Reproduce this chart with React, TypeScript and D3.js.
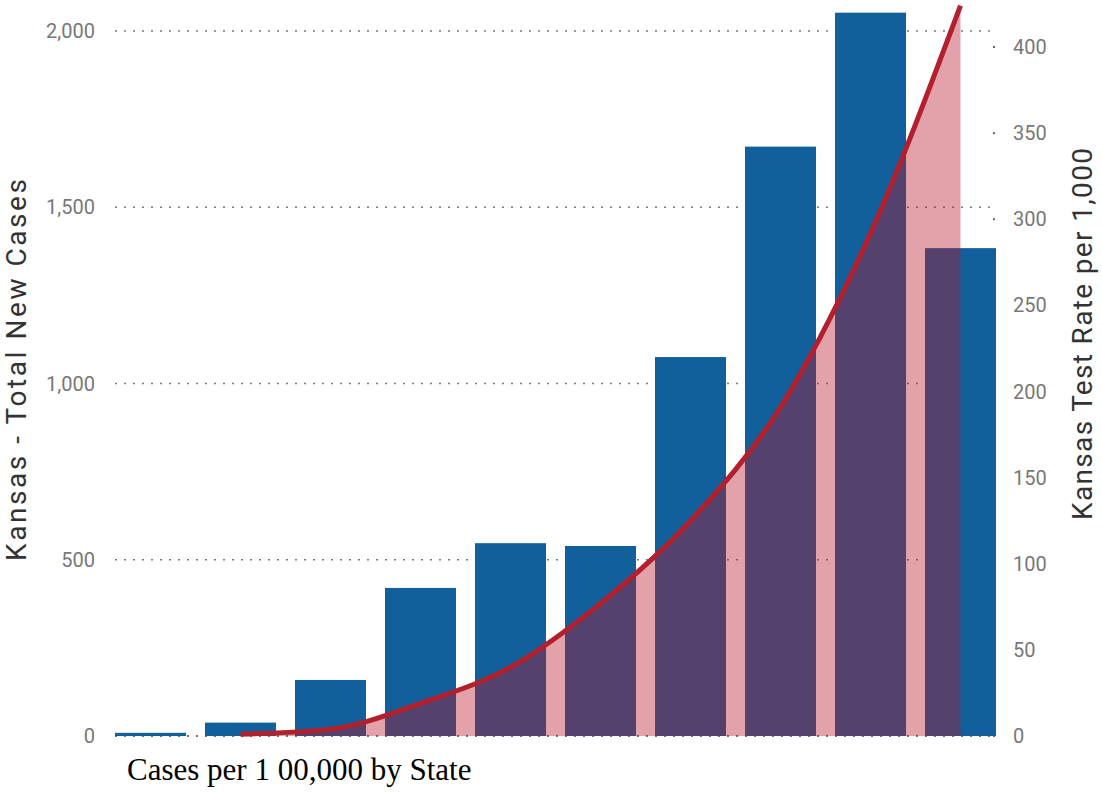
import React from "react";
import * as d3 from "d3";

const categories = ["B1", "B2", "B3", "B4", "B5", "B6", "B7", "B8", "B9", "B10"];
const totalNewCases = [9, 38, 159, 420, 547, 539, 1075, 1672, 2052, 1384];
const testRate: (number | null)[] = [null, 1, 4, 19, 40, 77, 125, 191, 292, 424];
const leftTicks = [0, 500, 1000, 1500, 2000];
const rightTicks = [0, 50, 100, 150, 200, 250, 300, 350, 400];

const W = 1102;
const H = 792;

export default function App() {
  const x = d3
    .scaleBand<string>()
    .domain(categories)
    .range([105.5, 1005.5])
    .paddingInner(0.211)
    .paddingOuter(0.1055);
  const yL = d3.scaleLinear().domain([0, 2000]).range([736, 31]);
  const yR = d3.scaleLinear().domain([0, 400]).range([736, 47]);
  const bw = x.bandwidth();
  const cx = (i: number) => (x(categories[i]) as number) + bw / 2;

  const pts = testRate.map((v, i) => ({ v, i }));
  const line = d3
    .line<{ v: number | null; i: number }>()
    .defined((d) => d.v != null)
    .x((d) => cx(d.i))
    .y((d) => yR(d.v as number))
    .curve(d3.curveMonotoneX);
  const area = d3
    .area<{ v: number | null; i: number }>()
    .defined((d) => d.v != null)
    .x((d) => cx(d.i))
    .y0(yR(0))
    .y1((d) => yR(d.v as number))
    .curve(d3.curveMonotoneX);

  const fontUI = "Roboto, 'Open Sans', sans-serif";
  const gridX0 = 115;
  const gridX1 = 994;

  return (
    <svg
      width={W}
      height={H}
      style={{ position: "absolute", left: 0, top: 0, background: "#fff" }}
    >
      {/* gridlines */}
      {leftTicks.map((t) => (
        <line
          key={"g" + t}
          x1={gridX0}
          x2={gridX1}
          y1={yL(t)}
          y2={yL(t)}
          stroke="#7a7a7a"
          strokeWidth={1.6}
          strokeDasharray="2 7"
        />
      ))}
      {/* right tick dots */}
      {rightTicks.map((t) => (
        <rect key={"rd" + t} x={993} y={yR(t) - 1} width={2} height={2} fill="#666" />
      ))}
      {/* bars */}
      {totalNewCases.map((v, i) => (
        <rect
          key={"b" + i}
          x={x(categories[i])}
          y={yL(v)}
          width={bw}
          height={yL(0) - yL(v)}
          fill="#11609c"
        />
      ))}
      {/* area */}
      <path d={area(pts) || ""} fill="rgb(185,20,40)" fillOpacity={0.4} />
      {/* zero line on top */}
      <line
        x1={gridX0}
        x2={gridX1}
        y1={yL(0)}
        y2={yL(0)}
        stroke="#444"
        strokeWidth={1.6}
        strokeDasharray="2 7"
        opacity={0.6}
      />
      {/* line */}
      <path d={line(pts) || ""} fill="none" stroke="#b3202d" strokeWidth={5} />

      {/* left tick labels */}
      {leftTicks.map((t) => (
        <text
          key={"lt" + t}
          x={95}
          y={yL(t)}
          dy="0.35em"
          textAnchor="end"
          fontFamily={fontUI}
          fontSize={20}
          fill="#777"
        >
          {d3.format(",")(t)}
        </text>
      ))}
      {/* right tick labels */}
      {rightTicks.map((t) => (
        <text
          key={"rt" + t}
          x={1013}
          y={yR(t)}
          dy="0.35em"
          textAnchor="start"
          fontFamily={fontUI}
          fontSize={20}
          fill="#777"
        >
          {d3.format(",")(t)}
        </text>
      ))}
      {/* axis titles */}
      <text
        transform={`translate(26,370) rotate(-90)`}
        textAnchor="middle"
        fontFamily={fontUI}
        fontSize={28}
        fill="#333"
        textLength={382}
        lengthAdjust="spacing"
      >
        Kansas - Total New Cases
      </text>
      <text
        transform={`translate(1092,334) rotate(-90)`}
        textAnchor="middle"
        fontFamily={fontUI}
        fontSize={28}
        fill="#333"
        textLength={372}
        lengthAdjust="spacing"
      >
        Kansas Test Rate per 1,000
      </text>
      <text
        x={127}
        y={780}
        fontFamily="'Liberation Serif', 'Times New Roman', serif"
        fontSize={31}
        fill="#000"
      >
        Cases per 1 00,000 by State
      </text>
    </svg>
  );
}
